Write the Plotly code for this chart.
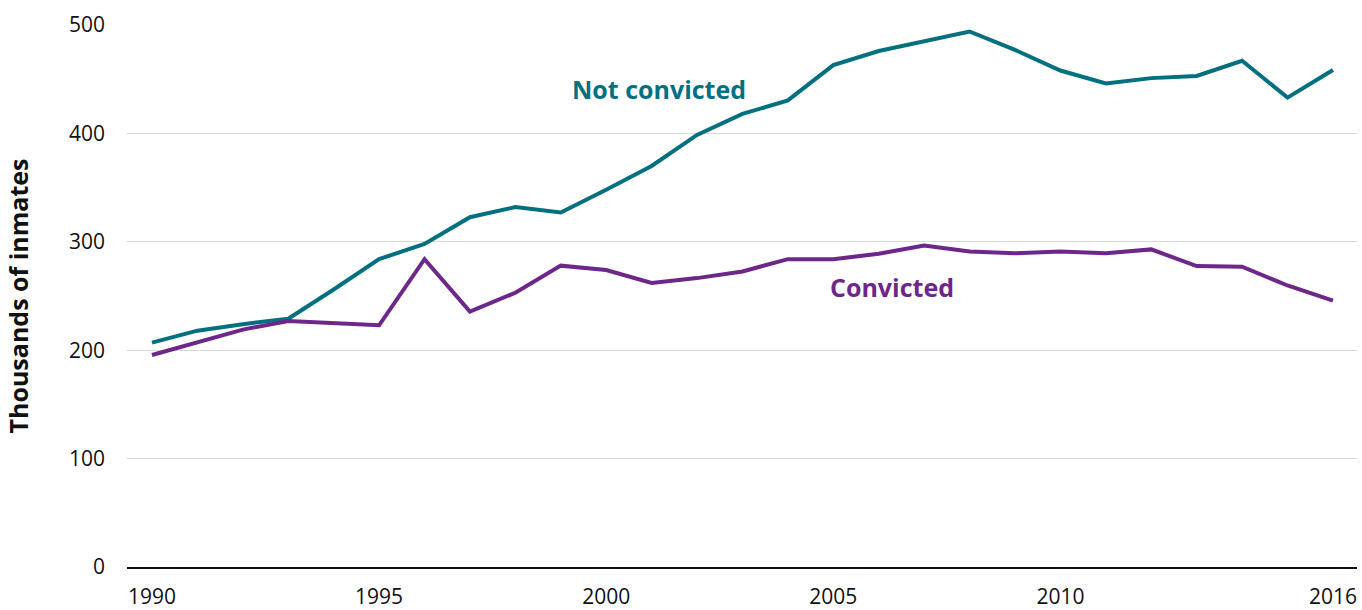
import plotly.graph_objects as go

years = list(range(1990, 2017))
not_convicted = [207, 218, 224, 229, 256, 284, 298, 322.7, 332, 327, 348, 370, 398.6,
                 418, 430.5, 463, 476, 484.6, 494, 477, 458, 446, 451, 453, 467, 433, 458.5]
convicted = [195.6, 207, 219, 227, 225, 223, 284, 235.7, 253, 278, 274, 262, 266.5,
             272.6, 284, 284, 289, 296.6, 291, 289.4, 291, 289.4, 293, 277.6, 277, 259.7, 245.7]
x_ticks = [1990, 1995, 2000, 2005, 2010, 2016]
y_ticks = [0, 100, 200, 300, 400, 500]

TEAL = "#03707f"
PURPLE = "#6d2689"
FONT = "Open Sans"

fig = go.Figure()
fig.add_trace(go.Scatter(x=years, y=not_convicted, mode="lines",
                         line=dict(color=TEAL, width=4), name="Not convicted"))
fig.add_trace(go.Scatter(x=years, y=convicted, mode="lines",
                         line=dict(color=PURPLE, width=4), name="Convicted"))

fig.add_annotation(x=2001.17, y=441, text="<b>Not convicted</b>", showarrow=False,
                   font=dict(family=FONT, size=25, color=TEAL), xanchor="center", yanchor="middle")
fig.add_annotation(x=2006.3, y=258, text="<b>Convicted</b>", showarrow=False,
                   font=dict(family=FONT, size=25, color=PURPLE), xanchor="center", yanchor="middle")

fig.update_layout(
    width=1362, height=610,
    margin=dict(l=127, r=5, t=25, b=43, autoexpand=False),
    plot_bgcolor="white", paper_bgcolor="white",
    showlegend=False,
    font=dict(family=FONT, size=21, color="#111111"),
    xaxis=dict(range=[1989.45, 2016.53], tickvals=x_ticks, ticktext=[str(v) for v in x_ticks],
               showgrid=False, zeroline=False, showline=True, linecolor="#111111", linewidth=1.5,
               ticks="", tickfont=dict(size=21), ticklabelstandoff=10, automargin=False),
    yaxis=dict(range=[0, 500], tickvals=y_ticks, showgrid=True, gridcolor="#d9d9d9", gridwidth=1,
               zeroline=False, showline=False, ticks="", tickfont=dict(size=21),
               ticklabelstandoff=21, automargin=False,
               title=dict(text="<b>Thousands of inmates</b>", font=dict(size=25), standoff=33)),
)

fig.write_html("out.html", config={"displayModeBar": False},
               post_script="document.body.style.margin='0';document.body.style.padding='0';")
